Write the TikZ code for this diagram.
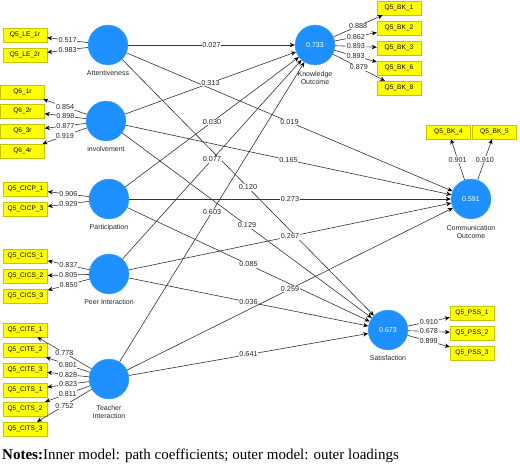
\documentclass[tikz,border=0pt]{standalone}
\usepackage{fontspec}
\setmainfont{Liberation Serif}
\setsansfont{Liberation Sans}
\usetikzlibrary{positioning,arrows.meta}
\definecolor{lvblue}{RGB}{30,144,255}
\definecolor{mvyellow}{RGB}{255,255,0}
\definecolor{mvborder}{RGB}{196,196,0}
\definecolor{linegray}{RGB}{50,50,50}
\newcommand\loading[3]{
  \draw[arrline] (#1) -- node[coef] {#3} (#2);
}
\newcommand\pathcoef[3]{
  \draw[arrline] (#1) -- node[coef] {#3} (#2);
}

\begin{document}
\begin{tikzpicture}[x=1pt,y=-1pt,
    latent/.style={
      circle,
      fill=lvblue,
      draw=lvblue!75!white,
      minimum size=40pt,
      inner sep=0pt,
      text=white,
      font={\sffamily\fontsize{7}{8}\selectfont}
    },
    item/.style={
      draw=mvborder,
      fill=mvyellow,
      minimum width=44pt,
      minimum height=14pt,
      inner sep=0pt,
      font={\sffamily\fontsize{6.6}{8}\selectfont\color{black}}
    },
    lvname/.style={align=center, inner sep=1pt,
      font={\sffamily\fontsize{7}{8}\selectfont\color{black!85}}},
    coef/.style={fill=white, inner sep=0.8pt,
      font={\sffamily\fontsize{7.2}{8}\selectfont\color{black!85}}},
    arrline/.style={draw=linegray, line width=0.6pt,
      -{Stealth[length=5pt,width=4.4pt,black]}}
  ]
  \useasboundingbox (0,0) rectangle (520,466);

  %% latent variables
  \node[latent] (att)  at (108,45)  {};
  \node[latent] (inv)  at (106,121) {};
  \node[latent] (par)  at (109,199) {};
  \node[latent] (peer) at (109,274) {};
  \node[latent] (tch)  at (109,379) {};
  \node[latent] (know) at (315,45)  {0.733};
  \node[latent] (comm) at (471,199) {0.591};
  \node[latent] (sat)  at (388,330) {0.673};

  \node[lvname, below=4pt of att]  (att-name)  {Attentiveness};
  \node[lvname, below=4pt of inv]  (inv-name)  {involvement};
  \node[lvname, below=4pt of par]  (par-name)  {Participation};
  \node[lvname, below=4pt of peer] (peer-name) {Peer Interaction};
  \node[lvname, below=5pt of tch]  (tch-name)  {Teacher\\Interaction};
  \node[lvname, below=5pt of know] (know-name) {Knowledge\\Outcome};
  \node[lvname, below=5pt of comm] (comm-name) {Communication\\Outcome};
  \node[lvname, below=4pt of sat]  (sat-name)  {Satisfaction};

  %% indicators
  \node[item] (le1) at (25,35) {Q5\_LE\_1r};
  \node[item] (le2) at (25,55) {Q5\_LE\_2r};

  \node[item] (q61) at (22.5,92)  {Q6\_1r};
  \node[item] (q62) at (22.5,111) {Q6\_2r};
  \node[item] (q63) at (22.5,131) {Q6\_3r};
  \node[item] (q64) at (22.5,151) {Q6\_4r};

  \node[item] (cicp1) at (25.5,189) {Q5\_CICP\_1};
  \node[item] (cicp3) at (25.5,209) {Q5\_CICP\_3};

  \node[item] (cics1) at (25.5,256) {Q5\_CICS\_1};
  \node[item] (cics2) at (25.5,276) {Q5\_CICS\_2};
  \node[item] (cics3) at (25.5,296) {Q5\_CICS\_3};

  \node[item] (cite1) at (25,330) {Q5\_CITE\_1};
  \node[item] (cite2) at (25,350) {Q5\_CITE\_2};
  \node[item] (cite3) at (25,370) {Q5\_CITE\_3};
  \node[item] (cits1) at (25,390) {Q5\_CITS\_1};
  \node[item] (cits2) at (25,409) {Q5\_CITS\_2};
  \node[item] (cits3) at (25,429) {Q5\_CITS\_3};

  \node[item] (bk1) at (399,8)  {Q5\_BK\_1};
  \node[item] (bk2) at (399,28) {Q5\_BK\_2};
  \node[item] (bk3) at (399,48) {Q5\_BK\_3};
  \node[item] (bk6) at (399,68) {Q5\_BK\_6};
  \node[item] (bk8) at (399,88) {Q5\_BK\_8};

  \node[item] (bk4) at (448.5,132) {Q5\_BK\_4};
  \node[item] (bk5) at (494.5,132) {Q5\_BK\_5};

  \node[item] (pss1) at (472,313) {Q5\_PSS\_1};
  \node[item] (pss2) at (472,333) {Q5\_PSS\_2};
  \node[item] (pss3) at (472,353) {Q5\_PSS\_3};

  %% inner model
  \pathcoef{att}{know}{0.027}
  \pathcoef{att}{comm}{0.019}
  \pathcoef{att}{sat}{0.120}
  \pathcoef{inv}{know}{0.313}
  \pathcoef{inv}{comm}{0.165}
  \pathcoef{inv}{sat}{0.129}
  \pathcoef{par}{know}{0.030}
  \pathcoef{par}{comm}{0.273}
  \pathcoef{par}{sat}{0.085}
  \pathcoef{peer}{know}{0.077}
  \pathcoef{peer}{comm}{0.267}
  \pathcoef{peer}{sat}{0.036}
  \pathcoef{tch}{know}{0.603}
  \pathcoef{tch}{comm}{0.259}
  \pathcoef{tch}{sat}{0.641}

  %% outer model
  \loading{att}{le1}{0.517}
  \loading{att}{le2}{0.983}
  \loading{inv}{q61}{0.854}
  \loading{inv}{q62}{0.898}
  \loading{inv}{q63}{0.877}
  \loading{inv}{q64}{0.919}
  \loading{par}{cicp1}{0.906}
  \loading{par}{cicp3}{0.929}
  \loading{peer}{cics1}{0.837}
  \loading{peer}{cics2}{0.805}
  \loading{peer}{cics3}{0.850}
  \loading{tch}{cite1}{0.778}
  \loading{tch}{cite2}{0.801}
  \loading{tch}{cite3}{0.828}
  \loading{tch}{cits1}{0.823}
  \loading{tch}{cits2}{0.811}
  \loading{tch}{cits3}{0.752}
  \loading{know}{bk1}{0.888}
  \loading{know}{bk2}{0.862}
  \loading{know}{bk3}{0.893}
  \loading{know}{bk6}{0.893}
  \loading{know}{bk8}{0.879}
  \loading{comm}{bk4}{0.901}
  \loading{comm}{bk5}{0.910}
  \loading{sat}{pss1}{0.910}
  \loading{sat}{pss2}{0.678}
  \loading{sat}{pss3}{0.899}

  % caption
  \node[anchor=base west, inner sep=0pt, font={\fontsize{15}{18}\selectfont}] (notes) at (2,459)
    {\textbf{Notes:}Inner model: path coefficients; outer model: outer loadings};
\end{tikzpicture}
\end{document}
